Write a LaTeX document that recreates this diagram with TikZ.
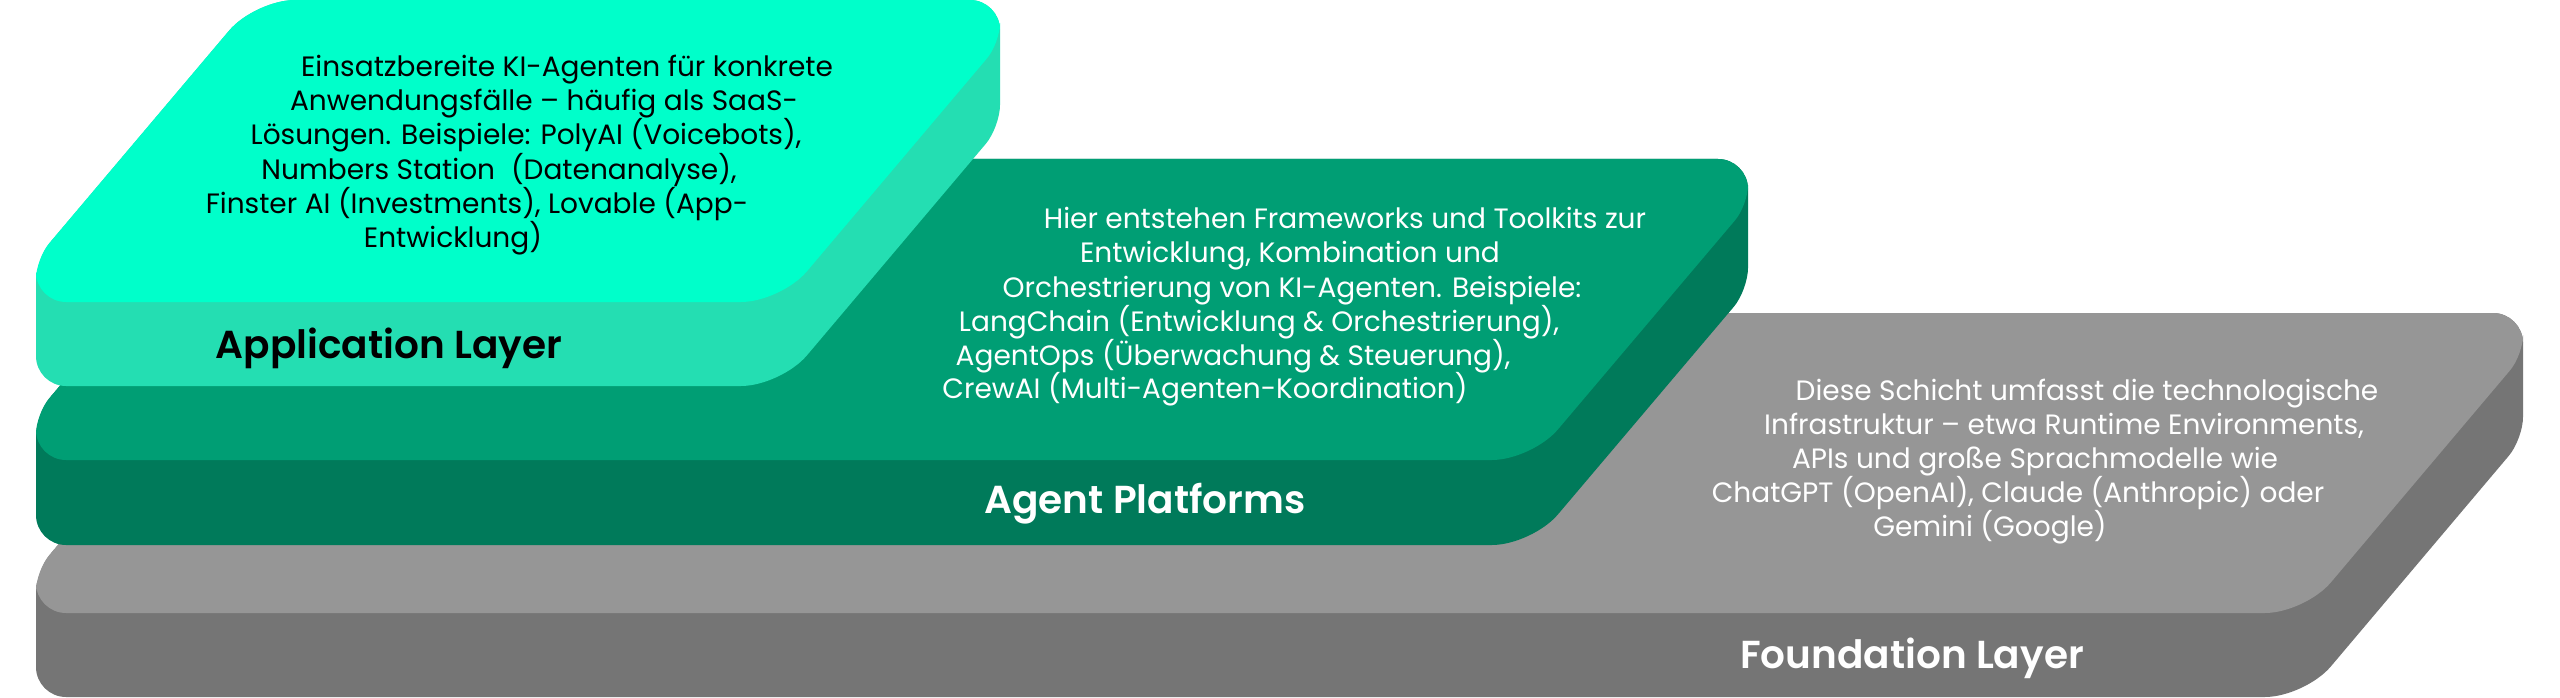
\documentclass[tikz,border=0pt]{standalone}
\usepackage{fontspec}
\setmainfont{Poppins}[BoldFont={Poppins SemiBold}]
\usetikzlibrary{calc}
\definecolor{appTop}{RGB}{0,255,202}
\definecolor{appSide}{RGB}{36,222,178}
\definecolor{agTop}{RGB}{0,158,116}
\definecolor{agSide}{RGB}{0,122,90}
\definecolor{fnTop}{RGB}{150,150,150}
\definecolor{fnSide}{RGB}{117,117,117}
% rounded corner at #1 between neighbours #2 and #3, cut length #4
\newcommand\crn[4]{-- ($(#1)!#4!(#2)$) .. controls ($(#1)!#4*0.45!(#2)$) and ($(#1)!#4*0.45!(#3)$) .. ($(#1)!#4!(#3)$)}
% hexagon slab: prefix #1, top colour #2, side colour #3
\newcommand\slab[3]{%
  \fill[#3] ($(#1A)!0.5!(#1B)$) \crn{#1B}{#1A}{#1Cs}{30pt} \crn{#1Cs}{#1B}{#1Ds}{22pt}
     \crn{#1Ds}{#1Cs}{#1Es}{40pt} \crn{#1Es}{#1Ds}{#1F}{30pt} \crn{#1F}{#1Es}{#1A}{22pt}
     \crn{#1A}{#1F}{#1B}{40pt} -- cycle;
  \fill[#2] ($(#1A)!0.5!(#1B)$) \crn{#1B}{#1A}{#1C}{30pt} \crn{#1C}{#1B}{#1D}{20pt}
     \crn{#1D}{#1C}{#1E}{40pt} \crn{#1E}{#1D}{#1F}{30pt} \crn{#1F}{#1E}{#1A}{20pt}
     \crn{#1A}{#1F}{#1B}{40pt} -- cycle;}
\tikzset{
  body/.style={anchor=base, inner sep=0pt, font=\fontsize{28}{34}\selectfont},
  layertitle/.style={anchor=base, inner sep=0pt, font=\fontsize{39}{46}\selectfont\bfseries}
}
\begin{document}
\begin{tikzpicture}[x=1pt,y=-1pt]
\useasboundingbox (0,0) rectangle (2560,698);
\fill[white] (0,0) rectangle (2560,698);
% Foundation layer geometry
\coordinate (fA) at (254,313);
\coordinate (fB) at (2523,313);
\coordinate (fC) at (2523,355);
\coordinate (fD) at (2305,613);
\coordinate (fE) at (36,613);
\coordinate (fF) at (36,571);
\coordinate (fCs) at ($(fC)+(0,84)$);
\coordinate (fDs) at ($(fD)+(0,84)$);
\coordinate (fEs) at ($(fE)+(0,84)$);
% Agent platforms geometry
\coordinate (gA) at (252,159);
\coordinate (gB) at (1748,159);
\coordinate (gC) at (1748,205);
\coordinate (gD) at (1532,460);
\coordinate (gE) at (36,460);
\coordinate (gF) at (36,414);
\coordinate (gCs) at ($(gC)+(0,85)$);
\coordinate (gDs) at ($(gD)+(0,85)$);
\coordinate (gEs) at ($(gE)+(0,85)$);
% Application layer geometry
\coordinate (aA) at (255,0);
\coordinate (aB) at (1000,0);
\coordinate (aC) at (1000,43);
\coordinate (aD) at (781,302);
\coordinate (aE) at (36,302);
\coordinate (aF) at (36,259);
\coordinate (aCs) at ($(aC)+(0,84)$);
\coordinate (aDs) at ($(aD)+(0,84)$);
\coordinate (aEs) at ($(aE)+(0,84)$);

\slab{f}{fnTop}{fnSide}
\slab{g}{agTop}{agSide}
\slab{a}{appTop}{appSide}

% Application layer texts
\begin{scope}[every node/.append style={text=black}]
\node[body] (app1) at (567,77) {Einsatzbereite KI-Agenten für konkrete};
\node[body] (app2) at (544,111) {Anwendungsfälle – häufig als SaaS-};
\node[body] (app3) at (526,145) {Lösungen. Beispiele: PolyAI (Voicebots),};
\node[body] (app4) at (499,179) {Numbers Station\hspace{0.3em} (Datenanalyse),};
\node[body] (app5) at (477,213) {Finster AI (Investments), Lovable (App-};
\node[body] (app6) at (453,247) {Entwicklung)};
\node[layertitle] (appT) at (389,358) {Application Layer};
\end{scope}

% Agent platforms texts
\begin{scope}[every node/.append style={text=white}]
\node[body] (ag1) at (1345,228) {Hier entstehen Frameworks und Toolkits zur};
\node[body] (ag2) at (1290,262) {Entwicklung, Kombination und};
\node[body] (ag3) at (1292,297) {Orchestrierung von KI-Agenten. Beispiele:};
\node[body] (ag4) at (1259,331) {LangChain (Entwicklung \& Orchestrierung),};
\node[body] (ag5) at (1233,365) {AgentOps (Überwachung \& Steuerung),};
\node[body] (ag6) at (1205,398) {CrewAI (Multi-Agenten-Koordination)};
\node[layertitle] (agT) at (1145,513) {Agent Platforms};
\end{scope}

% Foundation layer texts
\begin{scope}[every node/.append style={text=white}]
\node[body] (fn1) at (2087,400) {Diese Schicht umfasst die technologische};
\node[body] (fn2) at (2064,434) {Infrastruktur – etwa Runtime Environments,};
\node[body] (fn3) at (2035,468) {APIs und große Sprachmodelle wie};
\node[body] (fn4) at (2018,502) {ChatGPT (OpenAI), Claude (Anthropic) oder};
\node[body] (fn5) at (1990,536) {Gemini (Google)};
\node[layertitle] (fnT) at (1912,668) {Foundation Layer};
\end{scope}
\end{tikzpicture}
\end{document}
